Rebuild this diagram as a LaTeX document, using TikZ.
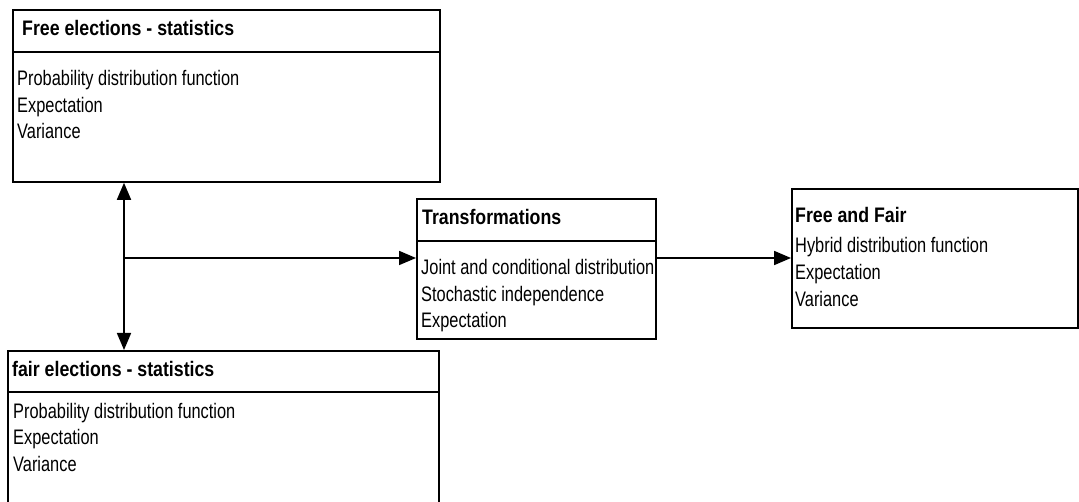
\documentclass[tikz,border=0pt]{standalone}
\usepackage{fontspec}
\setmainfont[FakeStretch=0.78]{Liberation Sans}
\newfontfamily\headfont[FakeStretch=0.845]{Liberation Sans}
\usetikzlibrary{arrows.meta}

\tikzset{
    >={Triangle[length=17pt,width=14pt]},
    panel/.style={draw, line width=1.8pt, inner sep=0pt, anchor=north west},
    head/.style={anchor=base west, inner sep=0pt, font=\headfont\bfseries\fontsize{21}{25}\selectfont},
    item/.style={anchor=base west, inner sep=0pt, font=\fontsize{21}{25}\selectfont},
    link/.style={line width=1.8pt}
}

\begin{document}
\begin{tikzpicture}[x=1pt, y=-1pt]
    \clip (0,0) rectangle (1079,502);

    % Free elections
    \node[panel, minimum width=427pt, minimum height=172pt] (free) at (12,9) {};
    \draw[link] ([yshift=-43pt]free.north west) -- ([yshift=-43pt]free.north east);
    \node[head] (free-head) at (22,36) {Free elections - statistics};
    \foreach \txt [count=\i] in {Probability distribution function, Expectation, Variance}
        \node[item] (free-\i) at (17,59.5+26.5*\i) {\txt};

    % fair elections
    \node[panel, minimum width=431pt, minimum height=156pt] (fair) at (7,350) {};
    \draw[link] ([yshift=-42pt]fair.north west) -- ([yshift=-42pt]fair.north east);
    \node[head] (fair-head) at (12,377) {fair elections - statistics};
    \foreach \txt [count=\i] in {Probability distribution function, Expectation, Variance}
        \node[item] (fair-\i) at (13,391.5+26.5*\i) {\txt};

    % Transformations
    \node[panel, minimum width=239pt, minimum height=140pt] (trans) at (416,198) {};
    \draw[link] ([yshift=-43pt]trans.north west) -- ([yshift=-43pt]trans.north east);
    \node[head] (trans-head) at (422,225) {Transformations};
    \foreach \txt [count=\i] in {Joint and conditional distribution, Stochastic independence, Expectation}
        \node[item] (trans-\i) at (421,248.5+26.5*\i) {\txt};

    % Free and Fair
    \node[panel, minimum width=286pt, minimum height=139pt] (both) at (791,188) {};
    \node[head] (both-head) at (795,223) {Free and Fair};
    \foreach \txt [count=\i] in {Hybrid distribution function, Expectation, Variance}
        \node[item] (both-\i) at (795,226+27*\i) {\txt};

    % Pfeile
    \coordinate (fork) at (124,258);
    \draw[link, <->] (free.south -| fork) -- (fair.north -| fork);
    \draw[link, ->] (fork) -- (fork -| trans.west);
    \draw[link, ->] (fork -| trans.east) -- (fork -| both.west);
\end{tikzpicture}
\end{document}
